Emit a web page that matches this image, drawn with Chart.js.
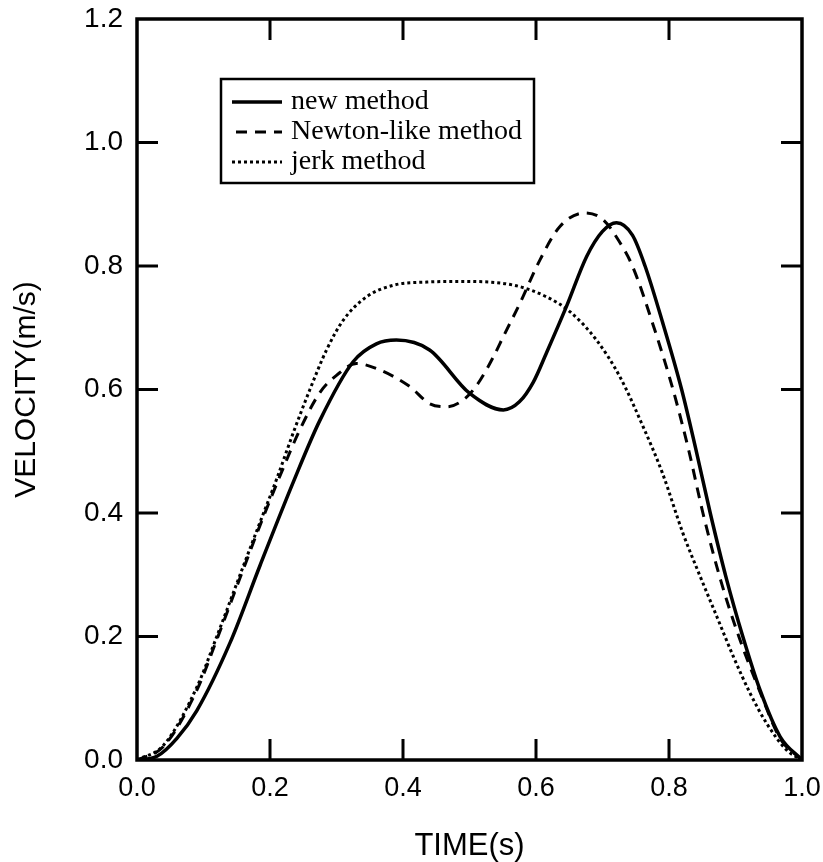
<!DOCTYPE html>
<html>
<head>
<meta charset="utf-8">
<script src="https://cdn.jsdelivr.net/npm/chart.js@4.4.1/dist/chart.umd.min.js"></script>
<style>
  html, body { margin: 0; padding: 0; background: #fff; }
  #wrap { width: 823px; height: 862px; }
</style>
</head>
<body>
<div id="wrap"><canvas id="velocityChart" width="823" height="862"></canvas></div>
<script>
// velocity profiles
const newTimes = [0, 0.03, 0.06, 0.09, 0.14, 0.185, 0.235, 0.275, 0.325, 0.36, 0.39, 0.44, 0.50, 0.551, 0.575, 0.596, 0.616, 0.646, 0.676, 0.70, 0.721, 0.745, 0.764, 0.79, 0.819, 0.84, 0.862, 0.886, 0.911, 0.937, 0.967, 1.0];
const newVel = [0, 0.006, 0.035, 0.08, 0.19, 0.315, 0.45, 0.55, 0.645, 0.674, 0.680, 0.664, 0.594, 0.567, 0.58, 0.612, 0.66, 0.735, 0.815, 0.856, 0.870, 0.85, 0.80, 0.71, 0.60, 0.505, 0.40, 0.295, 0.20, 0.113, 0.038, 0];

const newtonTimes = [0, 0.04, 0.09, 0.12, 0.155, 0.185, 0.215, 0.245, 0.275, 0.30, 0.33, 0.36, 0.41, 0.44, 0.466, 0.496, 0.516, 0.536, 0.551, 0.576, 0.606, 0.636, 0.674, 0.701, 0.725, 0.745, 0.776, 0.806, 0.83, 0.851, 0.878, 0.905, 0.937, 0.967, 1.0];
const newtonVel = [0, 0.022, 0.113, 0.195, 0.295, 0.38, 0.46, 0.535, 0.595, 0.623, 0.642, 0.634, 0.605, 0.577, 0.572, 0.588, 0.615, 0.653, 0.686, 0.740, 0.810, 0.864, 0.886, 0.875, 0.84, 0.80, 0.705, 0.60, 0.50, 0.40, 0.29, 0.20, 0.11, 0.035, 0];

const jerkTimes = [0, 0.04, 0.09, 0.12, 0.155, 0.185, 0.21, 0.235, 0.26, 0.285, 0.31, 0.345, 0.386, 0.436, 0.486, 0.566, 0.616, 0.651, 0.691, 0.726, 0.761, 0.79, 0.821, 0.847, 0.872, 0.897, 0.922, 0.947, 0.977, 1.0];
const jerkVel = [0, 0.024, 0.118, 0.20, 0.30, 0.385, 0.455, 0.53, 0.60, 0.664, 0.712, 0.750, 0.769, 0.774, 0.775, 0.769, 0.750, 0.726, 0.680, 0.621, 0.54, 0.465, 0.367, 0.297, 0.232, 0.167, 0.108, 0.059, 0.016, 0];

const seriesNames = ["new method", "Newton-like method", "jerk method"];
const xTicks = [0.2, 0.4, 0.6, 0.8];
const yTicks = [0.2, 0.4, 0.6, 0.8, 1.0];

const toPoints = (ts, vs) => ts.map((t, i) => ({ x: t, y: vs[i] }));

// frame, inward ticks and boxed legend
const framePlugin = {
  id: "frame",
  afterDraw(chart) {
    const { ctx, chartArea: a, scales } = chart;
    ctx.save();
    ctx.strokeStyle = "#000";
    ctx.lineWidth = 3.5;
    ctx.strokeRect(a.left, a.top, a.right - a.left, a.bottom - a.top);

    ctx.lineWidth = 3;
    ctx.beginPath();
    xTicks.forEach(v => {
      const px = scales.x.getPixelForValue(v);
      ctx.moveTo(px, a.bottom); ctx.lineTo(px, a.bottom - 21);
      ctx.moveTo(px, a.top); ctx.lineTo(px, a.top + 21);
    });
    yTicks.forEach(v => {
      const py = scales.y.getPixelForValue(v);
      ctx.moveTo(a.left, py); ctx.lineTo(a.left + 21, py);
      ctx.moveTo(a.right, py); ctx.lineTo(a.right - 21, py);
    });
    ctx.stroke();

    // legend box
    const bx = 221, by = 79, bw = 313, bh = 104;
    ctx.fillStyle = "#fff";
    ctx.fillRect(bx, by, bw, bh);
    ctx.lineWidth = 2.5;
    ctx.strokeRect(bx, by, bw, bh);
    const dashes = [[], [11, 8], [3, 3]];
    ctx.font = "28px 'Liberation Serif', 'Times New Roman', serif";
    ctx.textBaseline = "middle";
    ctx.fillStyle = "#000";
    seriesNames.forEach((name, i) => {
      const y = by + 23 + i * 30;
      ctx.lineWidth = i === 0 ? 3.5 : 3;
      ctx.setLineDash(dashes[i]);
      ctx.beginPath();
      ctx.moveTo(i === 1 ? 236 : 232, y);
      ctx.lineTo(282, y);
      ctx.stroke();
      ctx.setLineDash([]);
      ctx.fillText(name, 291, y);
    });
    ctx.restore();
  }
};

new Chart(document.getElementById("velocityChart").getContext("2d"), {
  type: "line",
  data: {
    datasets: [
      { label: seriesNames[0], data: toPoints(newTimes, newVel), borderColor: "#000", borderWidth: 3.5, pointRadius: 0, cubicInterpolationMode: "monotone" },
      { label: seriesNames[1], data: toPoints(newtonTimes, newtonVel), borderColor: "#000", borderWidth: 3, borderDash: [11, 8], pointRadius: 0, cubicInterpolationMode: "monotone" },
      { label: seriesNames[2], data: toPoints(jerkTimes, jerkVel), borderColor: "#000", borderWidth: 3, borderDash: [3, 3], pointRadius: 0, cubicInterpolationMode: "monotone" }
    ]
  },
  options: {
    responsive: false,
    animation: false,
    layout: { padding: { top: 19, right: 21, left: 0, bottom: 0 } },
    plugins: { legend: { display: false }, tooltip: { enabled: false } },
    scales: {
      x: {
        type: "linear", min: 0, max: 1,
        grid: { display: false, drawTicks: false },
        border: { display: false },
        ticks: { stepSize: 0.2, padding: 12, color: "#000", font: { family: "'Liberation Sans', Arial, sans-serif", size: 27 }, callback: v => v.toFixed(1) },
        title: { display: true, text: "TIME(s)", color: "#000", padding: { top: 0, bottom: 0 }, font: { family: "'Liberation Sans', Arial, sans-serif", size: 31, lineHeight: 1 } },
        afterFit: scale => { scale.height = 102; scale.paddingLeft = 0; scale.paddingRight = 0; }
      },
      y: {
        type: "linear", min: 0, max: 1.2,
        grid: { display: false, drawTicks: false },
        border: { display: false },
        ticks: { stepSize: 0.2, padding: 14, color: "#000", font: { family: "'Liberation Sans', Arial, sans-serif", size: 28 }, callback: v => v.toFixed(1) },
        title: { display: true, text: "VELOCITY(m/s)", color: "#000", padding: { top: 12, bottom: 0 }, font: { family: "'Liberation Sans', Arial, sans-serif", size: 30, lineHeight: 1 } },
        afterFit: scale => { scale.width = 137; scale.paddingTop = 0; scale.paddingBottom = 0; }
      }
    }
  },
  plugins: [framePlugin]
});
</script>
</body>
</html>
